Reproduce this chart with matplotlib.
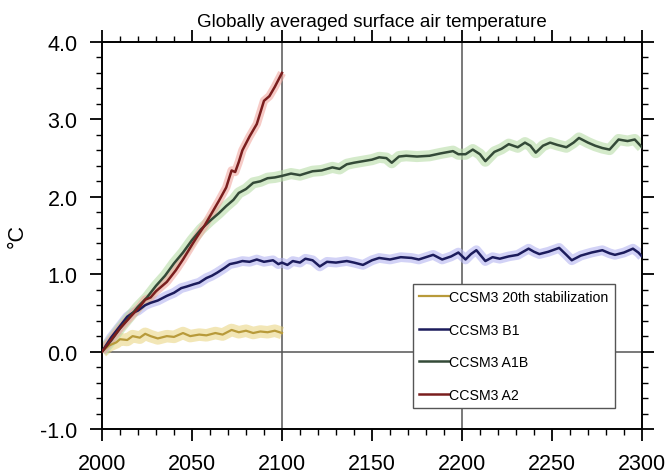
import matplotlib
matplotlib.use("Agg")
import matplotlib.pyplot as plt
from matplotlib.ticker import MultipleLocator

plt.rcParams['font.family'] = ['Liberation Sans', 'DejaVu Sans']

# CCSM3 A2 (ends 2100)
a2_years = [2000, 2005, 2010, 2017, 2021, 2024, 2027, 2030, 2036, 2041, 2045, 2050, 2053,
            2057, 2060, 2065, 2069, 2072, 2074, 2076, 2078, 2082, 2086, 2090, 2093, 2096, 2100]
a2_vals = [0.00, 0.15, 0.30, 0.48, 0.58, 0.67, 0.70, 0.78, 0.90, 1.05, 1.19, 1.38, 1.49,
           1.63, 1.75, 1.95, 2.12, 2.34, 2.32, 2.45, 2.60, 2.78, 2.94, 3.24, 3.30, 3.42, 3.60]

# CCSM3 A1B
a1b_years = [2000, 2005, 2010, 2015, 2020, 2025, 2030, 2035, 2040, 2045, 2050, 2055, 2060,
             2065, 2069, 2073, 2076, 2080, 2084, 2088, 2092, 2096, 2100, 2105, 2110, 2117,
             2122, 2128, 2132, 2136, 2140, 2145, 2150, 2154, 2158, 2161, 2165, 2169, 2175,
             2182, 2188, 2195, 2198, 2202, 2206, 2210, 2213, 2218, 2222, 2226, 2231, 2235,
             2238, 2241, 2245, 2249, 2253, 2258, 2262, 2265, 2270, 2274, 2278, 2282, 2287,
             2292, 2296, 2300]
a1b_vals = [0.00, 0.14, 0.30, 0.44, 0.58, 0.70, 0.85, 0.98, 1.14, 1.28, 1.44, 1.58, 1.69,
            1.79, 1.88, 1.96, 2.05, 2.10, 2.18, 2.20, 2.24, 2.25, 2.27, 2.30, 2.28, 2.33,
            2.34, 2.38, 2.36, 2.42, 2.44, 2.46, 2.48, 2.51, 2.50, 2.44, 2.52, 2.53, 2.52,
            2.53, 2.56, 2.59, 2.55, 2.55, 2.61, 2.55, 2.46, 2.58, 2.62, 2.68, 2.64, 2.70,
            2.66, 2.57, 2.66, 2.70, 2.67, 2.64, 2.70, 2.76, 2.70, 2.66, 2.63, 2.61, 2.74,
            2.72, 2.74, 2.64]

# CCSM3 B1
b1_years = [2000, 2005, 2010, 2014, 2017, 2020, 2024, 2027, 2031, 2036, 2040, 2044, 2047,
            2051, 2054, 2058, 2061, 2064, 2068, 2071, 2075, 2078, 2082, 2086, 2090, 2095,
            2098, 2100, 2103, 2106, 2110, 2113, 2117, 2121, 2125, 2130, 2136, 2140, 2145,
            2150, 2154, 2160, 2166, 2172, 2176, 2180, 2184, 2189, 2194, 2198, 2202, 2205,
            2208, 2213, 2217, 2221, 2226, 2231, 2237, 2240, 2243, 2248, 2254, 2258, 2261,
            2266, 2272, 2278, 2282, 2285, 2290, 2295, 2298, 2300]
b1_vals = [0.00, 0.18, 0.33, 0.45, 0.50, 0.53, 0.60, 0.63, 0.66, 0.72, 0.76, 0.82, 0.84,
           0.87, 0.89, 0.95, 0.98, 1.02, 1.08, 1.13, 1.15, 1.17, 1.16, 1.19, 1.16, 1.18,
           1.13, 1.15, 1.12, 1.17, 1.15, 1.20, 1.18, 1.10, 1.16, 1.15, 1.17, 1.15, 1.12,
           1.18, 1.21, 1.19, 1.22, 1.21, 1.19, 1.22, 1.25, 1.19, 1.23, 1.28, 1.19, 1.26,
           1.31, 1.17, 1.22, 1.20, 1.23, 1.25, 1.33, 1.29, 1.26, 1.29, 1.34, 1.25, 1.18,
           1.24, 1.28, 1.31, 1.27, 1.25, 1.28, 1.33, 1.28, 1.23]

# CCSM3 20th century stabilization (ends 2100)
st_years = [2000, 2004, 2008, 2010, 2014, 2017, 2021, 2024, 2027, 2031, 2036, 2040, 2045,
            2049, 2054, 2058, 2063, 2067, 2072, 2076, 2080, 2084, 2088, 2092, 2096, 2100]
st_vals = [0.00, 0.08, 0.12, 0.16, 0.15, 0.20, 0.18, 0.23, 0.20, 0.17, 0.20, 0.19, 0.24,
           0.20, 0.22, 0.21, 0.24, 0.22, 0.28, 0.25, 0.27, 0.24, 0.26, 0.25, 0.27, 0.24]

fig = plt.figure(figsize=(6.68, 4.77), dpi=100)
ax = fig.add_axes([0.1527, 0.0985, 0.8083, 0.8114])

# grid lines
for x in [2100, 2200]:
    ax.axvline(x, color='#555555', lw=1.1, zorder=1)
ax.axhline(0, color='#555555', lw=1.1, zorder=1)

# light ensemble spread (drawn as wide pale lines) then the ensemble mean
ax.plot(st_years, st_vals, color='#e8d27a', lw=9, alpha=0.55, zorder=2, solid_capstyle='butt')
ax.plot(b1_years, b1_vals, color='#b4b4f0', lw=7, alpha=0.6, zorder=2, solid_capstyle='butt')
ax.plot(a1b_years, a1b_vals, color='#b8dca8', lw=8, alpha=0.6, zorder=2, solid_capstyle='butt')
ax.plot(a2_years, a2_vals, color='#f0a8a0', lw=6, alpha=0.6, zorder=2, solid_capstyle='butt')

ax.plot(st_years, st_vals, color='#b89a3a', lw=1.6, zorder=3, label='CCSM3 20th stabilization')
ax.plot(b1_years, b1_vals, color='#1c1c5c', lw=1.8, zorder=3, label='CCSM3 B1')
ax.plot(a1b_years, a1b_vals, color='#344a38', lw=1.8, zorder=3, label='CCSM3 A1B')
ax.plot(a2_years, a2_vals, color='#7a1e1e', lw=1.8, zorder=3, label='CCSM3 A2')

ax.set_xlim(2000, 2300)
ax.set_ylim(-1.0, 4.0)
ax.xaxis.set_major_locator(MultipleLocator(50))
ax.xaxis.set_minor_locator(MultipleLocator(10))
ax.yaxis.set_major_locator(MultipleLocator(1.0))
ax.yaxis.set_minor_locator(MultipleLocator(0.2))
ax.yaxis.set_major_formatter(matplotlib.ticker.FormatStrFormatter('%.1f'))

ax.tick_params(which='major', direction='out', length=8.5, width=1.3,
               top=True, right=True, labelsize=15.5, pad=9)
ax.tick_params(which='minor', direction='out', length=4.3, width=1.0, top=True, right=True)
for s in ax.spines.values():
    s.set_linewidth(1.4)

ax.set_title('Globally averaged surface air temperature', fontsize=13.5, pad=11.5)
ax.set_ylabel('°C', fontsize=15.5)
ax.yaxis.set_label_coords(-0.137, 0.5)

leg = ax.legend(loc='upper left', bbox_to_anchor=(0.576, 0.375), borderaxespad=0,
                fontsize=10.2, handlelength=2.1, handletextpad=0.0, labelspacing=1.3,
                borderpad=0.45, fancybox=False, framealpha=1, edgecolor='#555555')
leg.get_frame().set_linewidth(1.0)
leg.set_zorder(5)

fig.savefig('out.png', dpi=100)
